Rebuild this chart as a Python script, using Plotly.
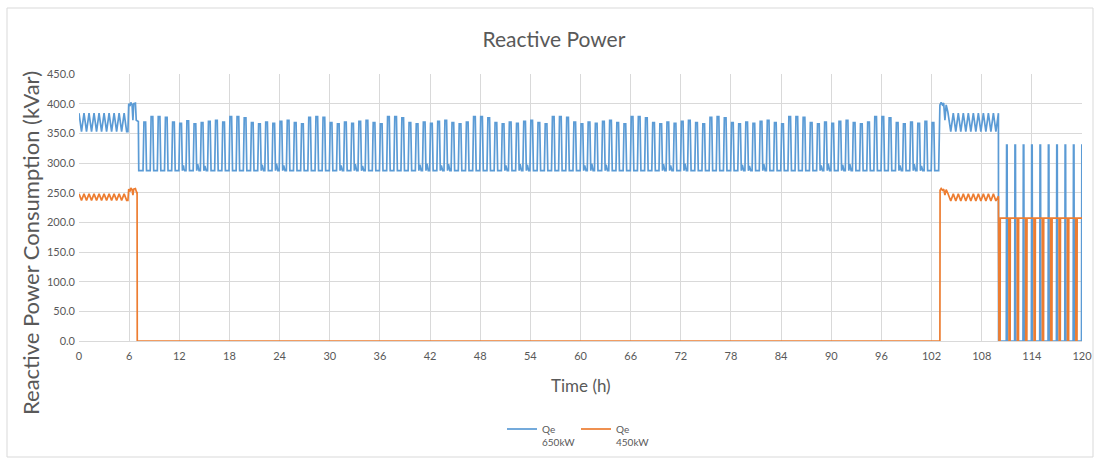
import plotly.graph_objects as go

COR_650 = "#5B9BD5"
COR_450 = "#ED7D31"
COR_TEXTO = "#595959"
COR_GRADE = "#D9D9D9"
FONTE = "Lato"

# --- Qe 650kW -------------------------------------------------------------
# 0-6 h: part-load oscillation
t650_ini = [0.0, 0.3, 0.6, 0.9, 1.2, 1.5, 1.8, 2.1, 2.4, 2.7, 3.0, 3.3, 3.6, 3.9,
            4.2, 4.5, 4.8, 5.1, 5.4, 5.7]
q650_ini = [384, 353, 384, 353, 384, 353, 384, 353, 384, 353, 384, 353, 384, 353,
            384, 353, 384, 353, 384, 353]
# start-up bump around 6-7 h
t650_arr = [5.85, 5.95, 6.1, 6.2, 6.35, 6.45, 6.55, 6.75, 6.85, 7.1, 7.15]
q650_arr = [353, 400, 396, 402, 398, 372, 400, 401, 372, 370, 287]

# 7-103 h: on/off cycling, one value per peak
q650_base = 287
pico_t = [7.90, 8.76, 9.61, 10.47, 11.33, 12.19, 13.04, 13.90, 14.76, 15.62,
          16.47, 17.33, 18.19, 19.04, 19.90, 20.76, 21.62, 22.47, 23.33, 24.19,
          25.05, 25.90, 26.76, 27.62, 28.48, 29.33, 30.19, 31.05, 31.90, 32.76,
          33.62, 34.48, 35.33, 36.19, 37.05, 37.91, 38.76, 39.62, 40.48, 41.33,
          42.19, 43.05, 43.91, 44.76, 45.62, 46.48, 47.34, 48.19, 49.05, 49.91,
          50.77, 51.62, 52.48, 53.34, 54.19, 55.05, 55.91, 56.77, 57.62, 58.48,
          59.34, 60.20, 61.05, 61.91, 62.77, 63.62, 64.48, 65.34, 66.20, 67.05,
          67.91, 68.77, 69.63, 70.48, 71.34, 72.20, 73.05, 73.91, 74.77, 75.63,
          76.48, 77.34, 78.20, 79.06, 79.91, 80.77, 81.63, 82.48, 83.34, 84.20,
          85.06, 85.91, 86.77, 87.63, 88.49, 89.34, 90.20, 91.06, 91.92, 92.77,
          93.63, 94.49, 95.34, 96.20, 97.06, 97.92, 98.77, 99.63, 100.49, 101.35,
          102.20]
pico_q = [369, 378, 378, 377, 369, 367, 371, 366, 368, 370, 372, 369, 378, 378,
          376, 368, 366, 369, 367, 370, 372, 368, 366, 377, 378, 377, 368, 366,
          369, 367, 370, 372, 368, 366, 378, 378, 376, 368, 366, 369, 367, 370,
          372, 368, 366, 369, 378, 378, 376, 368, 366, 369, 367, 370, 372, 368,
          366, 378, 378, 377, 369, 366, 369, 367, 370, 372, 368, 366, 378, 378,
          376, 368, 366, 369, 367, 370, 372, 368, 366, 377, 378, 376, 368, 366,
          369, 367, 370, 372, 368, 366, 378, 378, 377, 368, 366, 369, 367, 370,
          372, 368, 366, 369, 378, 378, 376, 368, 366, 369, 367, 370, 368]
# small ripple on the base after some peaks (0 = none)
pico_ondula = [0, 0, 0, 0, 0, 296, 0, 298, 295, 0, 0, 0, 0, 0,
               0, 0, 297, 0, 299, 296, 0, 0, 0, 0, 0, 0, 0, 296,
               0, 298, 295, 0, 0, 0, 0, 0, 0, 0, 297, 299, 0, 296,
               298, 0, 0, 0, 0, 0, 0, 0, 296, 0, 298, 297, 0, 0,
               0, 0, 0, 0, 0, 296, 299, 0, 297, 0, 0, 0, 0, 0,
               0, 0, 298, 296, 0, 299, 0, 0, 0, 0, 0, 0, 0, 297,
               295, 0, 298, 0, 0, 0, 0, 0, 0, 0, 296, 299, 0, 297,
               298, 0, 0, 0, 0, 0, 0, 296, 0, 298, 295, 0, 0]

# 103-110 h: second start-up and part-load oscillation
t650_fim = [102.85, 103.0, 103.15, 103.3, 103.45, 103.6, 103.75, 103.95, 104.3,
            104.6, 104.9, 105.2, 105.5, 105.8, 106.1, 106.4, 106.7, 107.0, 107.3,
            107.6, 107.9, 108.2, 108.5, 108.8, 109.1, 109.4, 109.7, 110.0, 110.02]
q650_fim = [287, 398, 402, 398, 401, 372, 398, 386, 353,
            384, 353, 384, 353, 384, 353, 384, 353, 384, 353,
            384, 353, 384, 353, 384, 353, 384, 353, 384, 0]
# 110-120 h: short pulses
t650_pulso = [110.94, 110.98, 111.04, 111.08, 111.94, 111.98, 112.04, 112.08,
              112.94, 112.98, 113.04, 113.08, 113.94, 113.98, 114.04, 114.08,
              114.94, 114.98, 115.04, 115.08, 115.94, 115.98, 116.04, 116.08,
              116.94, 116.98, 117.04, 117.08, 117.94, 117.98, 118.04, 118.08,
              118.94, 118.98, 119.04, 119.08, 119.94, 119.98, 120.0]
q650_pulso = [0, 330, 330, 0, 0, 330, 330, 0, 0, 330, 330, 0, 0, 330, 330, 0, 0,
              330, 330, 0, 0, 330, 330, 0, 0, 330, 330, 0, 0, 330, 330, 0, 0, 330,
              330, 0, 0, 330, 330]

# --- Qe 450kW -------------------------------------------------------------
t450 = [0.0, 0.3, 0.6, 0.9, 1.2, 1.5, 1.8, 2.1, 2.4, 2.7, 3.0, 3.3, 3.6, 3.9,
        4.2, 4.5, 4.8, 5.1, 5.4, 5.7, 5.85, 5.95, 6.1, 6.2, 6.35, 6.45, 6.55,
        6.75, 6.9, 6.95, 6.97, 103.0, 103.02, 103.15, 103.3, 103.45, 103.6, 103.75,
        103.95, 104.3, 104.6, 104.9, 105.2, 105.5, 105.8, 106.1, 106.4, 106.7,
        107.0, 107.3, 107.6, 107.9, 108.2, 108.5, 108.8, 109.1, 109.4, 109.7,
        110.0, 110.02]
q450 = [248, 237, 248, 237, 248, 237, 248, 237, 248, 237, 248, 237, 248, 237,
        248, 237, 248, 237, 248, 237, 237, 256, 252, 258, 255, 246, 256,
        257, 250, 250, 0, 0, 254, 257, 254, 256, 246, 255,
        249, 236, 248, 236, 248, 236, 248, 236, 248, 236,
        248, 236, 248, 236, 248, 236, 248, 236, 248, 236,
        244, 207]
t450_pulso = [110.05, 110.07, 110.2, 110.22, 111.25, 111.27, 111.4, 111.42,
              112.25, 112.27, 112.4, 112.42, 113.25, 113.27, 113.4, 113.42,
              114.25, 114.27, 114.4, 114.42, 115.25, 115.27, 115.4, 115.42,
              116.25, 116.27, 116.4, 116.42, 117.25, 117.27, 117.4, 117.42,
              118.25, 118.27, 118.4, 118.42, 119.25, 119.27, 119.4, 119.42, 120.0]
q450_pulso = [207, 0, 0, 207, 207, 0, 0, 207, 207, 0, 0, 207, 207, 0, 0, 207,
              207, 0, 0, 207, 207, 0, 0, 207, 207, 0, 0, 207, 207, 0, 0, 207,
              207, 0, 0, 207, 207, 0, 0, 207, 207]

X_TICKS = list(range(0, 121, 6))


def serie_ciclos(tempos, picos, ondula, base):
    # each cycle: flat base, quick rise to the peak, short top, fall back
    xs, ys = [], []
    for t, q, o in zip(tempos, picos, ondula):
        xs += [t - 0.24, t - 0.13, t + 0.07, t + 0.18]
        ys += [base, q, q, base]
        if o:
            xs += [t + 0.3, t + 0.38, t + 0.46]
            ys += [o, base + 2, base]
    return xs, ys


ciclo_t, ciclo_q = serie_ciclos(pico_t, pico_q, pico_ondula, q650_base)
x650 = t650_ini + t650_arr + ciclo_t + t650_fim + t650_pulso
y650 = q650_ini + q650_arr + ciclo_q + q650_fim + q650_pulso
x450 = t450 + t450_pulso
y450 = q450 + q450_pulso

fig = go.Figure()

fig.add_trace(
    go.Scatter(
        x=x650,
        y=y650,
        mode="lines",
        name="Qe<br>650kW",
        line=dict(width=1.7, color=COR_650)
    )
)

fig.add_trace(
    go.Scatter(
        x=x450,
        y=y450,
        mode="lines",
        name="Qe<br>450kW",
        line=dict(width=1.7, color=COR_450)
    )
)

fig.update_layout(
    width=1099,
    height=459,
    paper_bgcolor="white",
    plot_bgcolor="white",
    margin=dict(l=79, r=17, t=74, b=118, autoexpand=False),
    font=dict(family=FONTE, color=COR_TEXTO, size=11),
    title=dict(
        text="Reactive Power",
        x=0.504,
        xanchor="center",
        y=1 - 40 / 459,
        yanchor="middle",
        font=dict(size=21, color=COR_TEXTO, family=FONTE)
    ),
    legend=dict(
        orientation="h",
        x=(576 - 79) / 1003,
        xanchor="center",
        y=(341 - 416) / 267,
        yanchor="top",
        valign="top",
        bgcolor="rgba(0,0,0,0)",
        font=dict(size=10, color=COR_TEXTO),
        itemwidth=30,
        entrywidth=29
    ),
    showlegend=True
)

fig.update_xaxes(
    range=[0, 120],
    tickvals=X_TICKS,
    ticktext=[str(v) for v in X_TICKS],
    showgrid=True,
    gridcolor=COR_GRADE,
    gridwidth=1,
    zeroline=False,
    showline=True,
    linecolor=COR_GRADE,
    ticks="",
    ticklabelstandoff=5,
    tickfont=dict(size=11, color=COR_TEXTO)
)

fig.update_yaxes(
    range=[0, 450],
    dtick=50,
    tickformat=".1f",
    showgrid=True,
    gridcolor=COR_GRADE,
    gridwidth=1,
    zeroline=False,
    showline=False,
    ticks="",
    ticklabelstandoff=3,
    tickfont=dict(size=11, color=COR_TEXTO)
)

fig.add_annotation(
    text="Time (h)",
    xref="paper", yref="paper",
    x=0.5, y=(341 - 385) / 267,
    xanchor="center", yanchor="middle",
    showarrow=False,
    font=dict(size=17, color=COR_TEXTO, family=FONTE)
)

fig.add_annotation(
    text="Reactive Power Consumption (kVar)",
    xref="paper", yref="paper",
    x=(30 - 79) / 1003, y=(341 - 243) / 267,
    xanchor="center", yanchor="middle",
    textangle=-90,
    showarrow=False,
    font=dict(size=22, color=COR_TEXTO, family=FONTE)
)

# chart area border
fig.add_shape(
    type="rect",
    xref="paper", yref="paper",
    x0=(7 - 79) / 1003, x1=(1093 - 79) / 1003,
    y0=(341 - 457) / 267, y1=(341 - 8) / 267,
    line=dict(color=COR_GRADE, width=1),
    layer="below"
)

fig.write_html(
    "out.html",
    config={"displayModeBar": False},
    post_script="document.body.style.margin='0';"
)
